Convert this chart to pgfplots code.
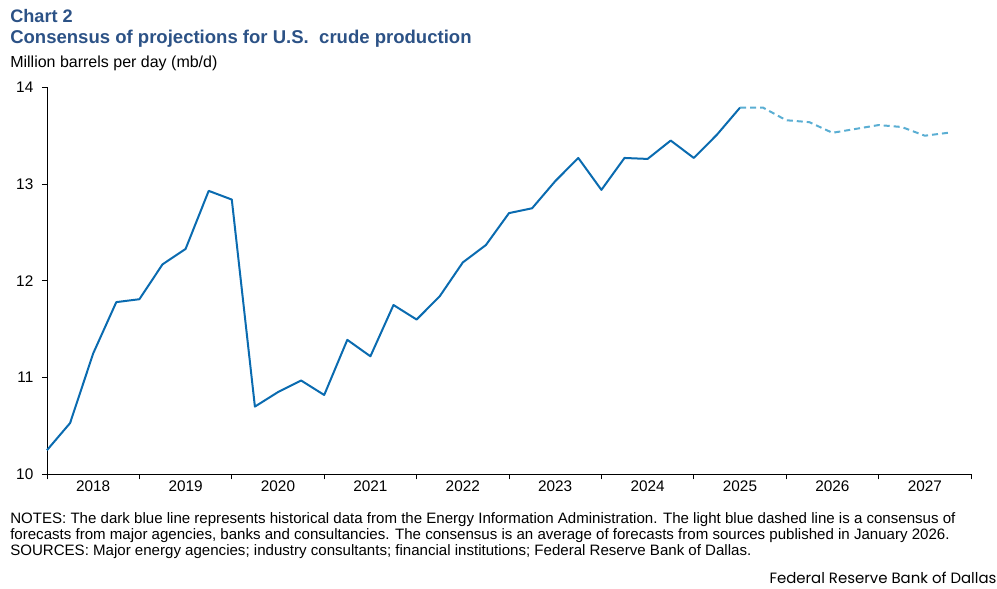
\documentclass[border=0pt]{standalone}
\usepackage{pgfplots}
\pgfplotsset{compat=1.18}
\usepackage{fontspec}
\setmainfont{Liberation Sans}
\newfontfamily\logofont{Poppins}
\definecolor{histblue}{HTML}{0A6BB0}
\definecolor{fcblue}{HTML}{5AAED3}
\definecolor{titleblue}{HTML}{2C5286}
\pgfplotstableread{
q v
0 10.25
1 10.53
2 11.25
3 11.78
4 11.81
5 12.17
6 12.33
7 12.93
8 12.84
9 10.70
10 10.85
11 10.97
12 10.82
13 11.39
14 11.22
15 11.75
16 11.60
17 11.84
18 12.19
19 12.37
20 12.70
21 12.75
22 13.03
23 13.27
24 12.94
25 13.27
26 13.26
27 13.45
28 13.27
29 13.51
30 13.79
}\histdata
\pgfplotstableread{
q v
30 13.79
31 13.79
32 13.66
33 13.64
34 13.53
35 13.57
36 13.61
37 13.59
38 13.50
39 13.53
}\fcdata
\begin{document}
\begin{tikzpicture}
\path[use as bounding box] (0,0) rectangle (747.75pt,441.75pt);
\node[anchor=base west, inner sep=0, font=\fontsize{13.6pt}{16pt}\selectfont\bfseries, text=titleblue] at (7.5pt,424.5pt) {Chart 2};
\node[anchor=base west, inner sep=0, font=\fontsize{13.9pt}{16pt}\selectfont\bfseries, text=titleblue] at (7.5pt,408.75pt) {Consensus of projections for U.S.\ \ crude production};
\node[anchor=base west, inner sep=0, font=\fontsize{12pt}{14pt}\selectfont] at (7.5pt,391.1pt) {Million barrels per day (mb/d)};
\begin{axis}[
  at={(35.25pt,86.0pt)}, anchor=south west,
  scale only axis, width=693pt, height=290.25pt,
  xmin=0, xmax=40, ymin=10, ymax=14,
  axis x line*=bottom, axis y line*=left,
  axis line style={-, black, line width=0.6pt},
  tick align=outside, major tick length=3.75pt,
  tick style={black, line width=0.6pt},
  xtick={0,4,...,40}, xticklabels={},
  extra x ticks={2,6,...,38},
  extra x tick labels={2018,2019,2020,2021,2022,2023,2024,2025,2026,2027},
  extra x tick style={major tick length=0pt, tick label style={yshift=-1pt}},
  ytick={10,11,12,13,14},
  ticklabel style={font=\fontsize{11.5pt}{13pt}\selectfont},
  /pgf/number format/assume math mode=true,
  yticklabel style={xshift=-3pt},
  clip=false,
]
\addplot[histblue, line width=1.5pt, line join=round] table[x=q,y=v] {\histdata};
\addplot[fcblue, line width=1.5pt, dash pattern=on 4.5pt off 3pt] table[x=q,y=v] {\fcdata};
\end{axis}
\begin{scope}[every node/.style={anchor=base west, inner sep=0, font=\fontsize{11.3pt}{13pt}\selectfont}]
\node at (7.5pt,48.75pt) {NOTES: The dark blue line represents historical data from the Energy Information Administration. The light blue dashed line is a consensus of};
\node at (7.5pt,36.75pt) {forecasts from major agencies, banks and consultancies. The consensus is an average of forecasts from sources published in January 2026.};
\node at (7.5pt,24.75pt) {SOURCES: Major energy agencies; industry consultants; financial institutions; Federal Reserve Bank of Dallas.};
\node[anchor=base east, font=\logofont\fontsize{11.2pt}{13pt}\selectfont] at (747.5pt,3.75pt) {Federal Reserve Bank of Dallas};
\end{scope}
\end{tikzpicture}
\end{document}
